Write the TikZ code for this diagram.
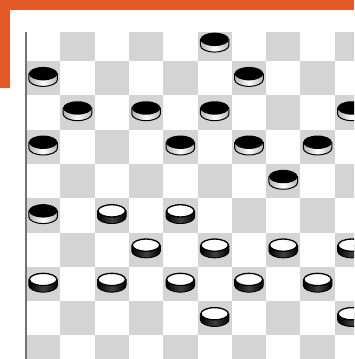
\documentclass[tikz,border=0pt]{standalone}
\definecolor{barorange}{RGB}{226,88,38}
\definecolor{darksquare}{RGB}{212,212,212}
\newcommand{\sq}{34.3}
\tikzset{
  blackman/.pic={
    \shade[left color=gray!60, right color=gray!60, middle color=white, draw=black, line width=1pt]
      (-14.3,0) -- (-14.3,6) arc[start angle=180, end angle=0, x radius=14.3, y radius=6.7] -- (14.3,0) -- cycle;
    \fill[black] (0,0) ellipse[x radius=14.3, y radius=6.7];
  },
  whiteman/.pic={
    \shade[left color=black, right color=black, middle color=black!75, draw=black, line width=0.9pt]
      (-14.3,0) -- (-14.3,6) arc[start angle=180, end angle=0, x radius=14.3, y radius=6.7] -- (14.3,0) -- cycle;
    \draw[fill=white, line width=1.3pt] (0,0) ellipse[x radius=13.7, y radius=6.1];
  },
}
\begin{document}
\begin{tikzpicture}[x=1pt, y=-1pt, line join=round]
  \useasboundingbox (0,0) rectangle (354,359);
  % orange corner bars
  \fill[barorange] (0,0) rectangle (354,9.5);
  \fill[barorange] (0,0) rectangle (10,88);
  \begin{scope}
    \clip (26,32.3) rectangle (354,359);
    % squares
    \foreach \r in {0,...,9}
      \foreach \c in {0,...,9} {
        \pgfmathtruncatemacro{\odd}{mod(\r+\c,2)}
        \ifnum\odd=1
          \fill[darksquare] ({26+\c*\sq}, {26.7+\r*\sq}) rectangle ++(\sq,\sq);
        \fi
      }
    % black men
    \foreach \r/\c in {0/5, 1/0, 1/6, 2/1, 2/3, 2/5, 2/9, 3/0, 3/4, 3/6, 3/8, 4/7, 5/0}
      \pic at ({26+(\c+0.5)*\sq}, {26.7+(\r+0.5)*\sq-4.5}) {blackman};
    % white men
    \foreach \r/\c in {5/2, 5/4, 6/3, 6/5, 6/7, 6/9, 7/0, 7/2, 7/4, 7/6, 7/8, 8/5, 8/9}
      \pic at ({26+(\c+0.5)*\sq}, {26.7+(\r+0.5)*\sq-4.5}) {whiteman};
  \end{scope}
  \draw[black!55, line width=1.3pt] (26,32.3) -- (26,359);
\end{tikzpicture}
\end{document}
